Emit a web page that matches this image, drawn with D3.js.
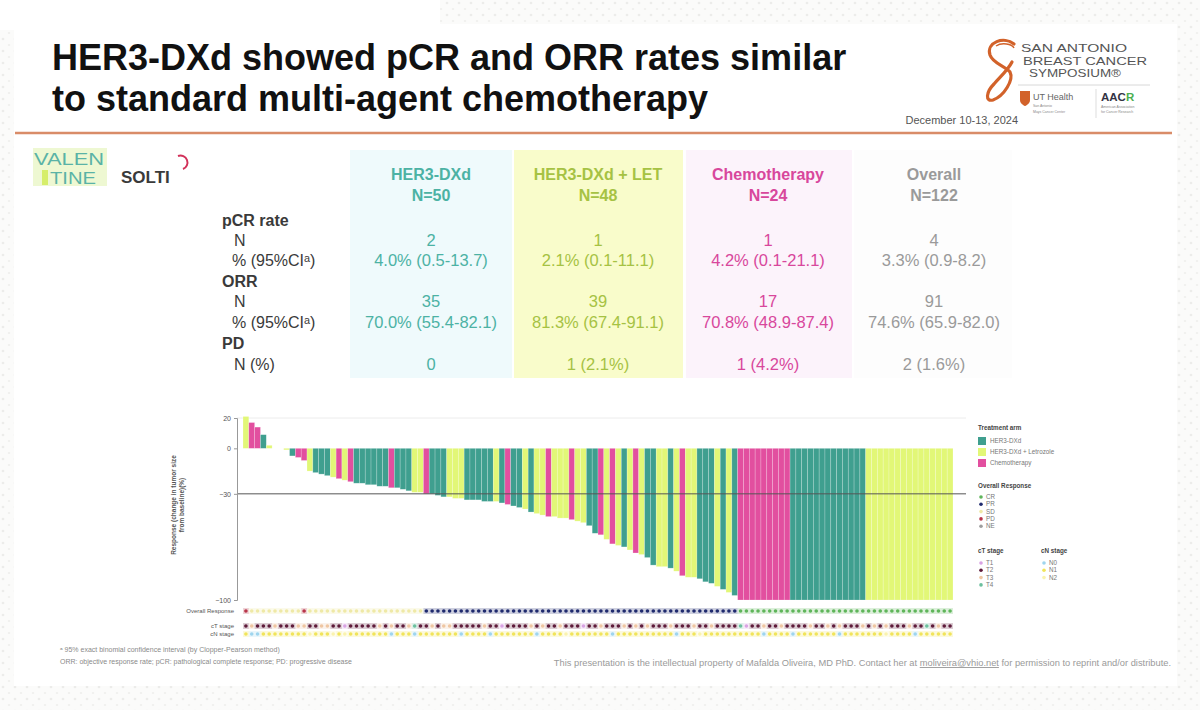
<!DOCTYPE html>
<html>
<head>
<meta charset="utf-8">
<script src="https://cdn.jsdelivr.net/npm/d3@7"></script>
<style>
  body { margin: 0; background: #fff; }
  svg { display: block; }
  text { font-family: "Liberation Sans", Arial, sans-serif; }
</style>
</head>
<body>
<div id="chart-area"></div>
<script>
// ---------- DATA ----------
var titleLines = ["HER3-DXd showed pCR and ORR rates similar", "to standard multi-agent chemotherapy"];

// summary table
var groups = ["HER3-DXd", "HER3-DXd + LET", "Chemotherapy", "Overall"];
var groupN = ["N=50", "N=48", "N=24", "N=122"];
var pcrN = ["2", "1", "1", "4"];
var pcrPct = ["4.0% (0.5-13.7)", "2.1% (0.1-11.1)", "4.2% (0.1-21.1)", "3.3% (0.9-8.2)"];
var orrN = ["35", "39", "17", "91"];
var orrPct = ["70.0% (55.4-82.1)", "81.3% (67.4-91.1)", "70.8% (48.9-87.4)", "74.6% (65.9-82.0)"];
var pdN = ["0", "1 (2.1%)", "1 (4.2%)", "2 (1.6%)"];

// waterfall: one entry per patient (T = HER3-DXd, Y = HER3-DXd + Letrozole, C = Chemotherapy)
var armNames = ["HER3-DXd", "HER3-DXd + Letrozole", "Chemotherapy"];
var armCodes = ["T", "Y", "C"];
var barArm = ("YCCTYYYYTC" + "CYTTTYCYCT" + "TTTTTCTTTY" + "YCTTTYYYTT" + "TTTYTCTTYT" +
              "YYCYYYCYYT" + "TCYCYTYCYT" + "TYYTYCYYTT" + "TYTYTCCCCC" + "CCCCTTTTTT" +
              "TTTTTTTYYY" + "YYYYYYYYYY" + "YY").split("");
var barChange = [21, 17, 14, 9, 2, 0, 0, -1, -5, -6,
                 -8, -15, -16, -17, -18, -19, -20, -21, -22, -23,
                 -23, -24, -24, -25, -25, -26, -26, -27, -28, -29,
                 -29, -30, -30, -31, -32, -32, -33, -33, -34, -34,
                 -34, -35, -35, -35, -36, -37, -38, -39, -40, -42,
                 -43, -44, -45, -45, -46, -46, -47, -48, -49, -51,
                 -56, -57, -60, -63, -64, -65, -67, -69, -70, -72,
                 -77, -78, -78, -79, -81, -84, -85, -85, -86, -88,
                 -89, -91, -93, -95, -97, -100, -100, -100, -100, -100,
                 -100, -100, -100, -100, -100, -100, -100, -100, -100, -100,
                 -100, -100, -100, -100, -100, -100, -100, -100, -100, -100,
                 -100, -100, -100, -100, -100, -100, -100, -100, -100, -100,
                 -100, -100];
// overall response (C = CR, P = PR, S = SD, D = PD, N = NE)
var responseNames = ["CR", "PR", "SD", "PD", "NE"];
var responseCodes = ["C", "P", "S", "D", "N"];
var barResponse = ("DSSSSSSSSS" + "DSSSSSSSSS" + "SSSSSSSSSS" + "SPPPPPPPPP" + "PPPPPPPPPP" +
                   "PPPPPPPPPP" + "PPPPPPPPPP" + "PPPPPPPPPP" + "PPPPPCCCCC" + "CCCCCCCCCC" +
                   "CCCCCCCCCC" + "CCCCCCCCCC" + "CC").split("");
var ctNames = ["T1", "T2", "T3", "T4"];
var barCT = ("2322232223" + "3223322122" + "2223232234" + "2232332222" + "2322122223" +
             "2322322212" + "2322232323" + "2223222322" + "3222241223" + "2232222322" +
             "3232223232" + "3222322423" + "22").split("");
var cnNames = ["N0", "N1", "N2"];
var barCN = ("1001111111" + "1211121211" + "1111101110" + "1111111011" + "1101111111" +
             "0111121111" + "1110111111" + "1111011121" + "1111111110" + "1111011111" +
             "1101111111" + "2111101111" + "11").split("");
var yTicks = [20, 0, -30, -100];

// ---------- DRAW ----------
var W = 1200, H = 710;
var svg = d3.select("#chart-area").append("svg")
    .attr("width", W).attr("height", H);

// faint textured backdrop with white slide
var defs = svg.append("defs");
var pat = defs.append("pattern").attr("id", "tex")
    .attr("width", 12).attr("height", 12).attr("patternUnits", "userSpaceOnUse");
pat.append("rect").attr("width", 12).attr("height", 12).attr("fill", "#fbfbfa");
pat.append("circle").attr("cx", 3).attr("cy", 3).attr("r", 1.3).attr("fill", "#ececea");
pat.append("circle").attr("cx", 9).attr("cy", 9).attr("r", 1.1).attr("fill", "#efefed");
svg.append("rect").attr("width", W).attr("height", H).attr("fill", "url(#tex)");
svg.append("rect").attr("x", 14).attr("y", 24).attr("width", 1163).attr("height", 662).attr("fill", "#fff");
svg.append("rect").attr("x", 0).attr("y", 0).attr("width", 440).attr("height", 30).attr("fill", "#fff");

// title
svg.selectAll(".title").data(titleLines).enter().append("text")
    .attr("class", "title")
    .attr("x", 52).attr("y", (d, i) => 70 + i * 41)
    .attr("font-size", "36px").attr("font-weight", "bold").attr("fill", "#111")
    .text(d => d);

// orange separator
svg.append("line").attr("x1", 15).attr("x2", 1172).attr("y1", 133).attr("y2", 133)
    .attr("stroke", "#d98c68").attr("stroke-width", 2.5);

// SABCS logo (right)
var logo = svg.append("g");
logo.append("path")
    .attr("d", "M1014,44 C1004,36 986,42 990,55 C993,64 1006,66 1010,72 C1014,80 1004,96 993,100 C985,102 986,92 994,84 C1000,77 1008,70 1012,62")
    .attr("fill", "none").attr("stroke", "#d2622a").attr("stroke-width", 3.2).attr("stroke-linecap", "round");
logo.append("path")
    .attr("d", "M996,46 C1002,42 1012,44 1014,48")
    .attr("fill", "none").attr("stroke", "#d2622a").attr("stroke-width", 1.5);
[["SAN ANTONIO", 1021, 106], ["BREAST CANCER", 1023, 124], ["SYMPOSIUM\u00ae", 1029, 92]].forEach((t, i) => {
    logo.append("text").attr("x", t[1]).attr("y", 52 + i * 12.5)
        .attr("font-size", "11px").attr("fill", "#555")
        .attr("textLength", t[2]).attr("lengthAdjust", "spacingAndGlyphs")
        .text(t[0]);
});
logo.append("line").attr("x1", 1018).attr("x2", 1150).attr("y1", 85).attr("y2", 85)
    .attr("stroke", "#d8d8d8").attr("stroke-width", 1);
logo.append("path").attr("d", "M1020,91 L1030,91 L1030,100 C1030,104 1025,106 1025,106 C1025,106 1020,104 1020,100 Z")
    .attr("fill", "#d2622a");
logo.append("text").attr("x", 1033).attr("y", 100).attr("font-size", "9px")
    .attr("font-family", "Liberation Serif, serif").attr("fill", "#666").text("UT Health");
logo.append("text").attr("x", 1033).attr("y", 107).attr("font-size", "3.5px").attr("fill", "#888").text("San Antonio");
logo.append("text").attr("x", 1033).attr("y", 113).attr("font-size", "3.5px").attr("fill", "#888").text("Mays Cancer Center");
logo.append("line").attr("x1", 1096).attr("x2", 1096).attr("y1", 89).attr("y2", 118)
    .attr("stroke", "#ddd");
logo.append("text").attr("x", 1101).attr("y", 101).attr("font-size", "11.5px")
    .attr("font-weight", "bold").attr("fill", "#334")
    .html('AAC<tspan fill="#4caf50">R</tspan>');
logo.append("text").attr("x", 1101).attr("y", 108).attr("font-size", "3.5px").attr("fill", "#888").text("American Association");
logo.append("text").attr("x", 1101).attr("y", 113).attr("font-size", "3.5px").attr("fill", "#888").text("for Cancer Research");
svg.append("text").attr("x", 1018).attr("y", 124).attr("text-anchor", "end")
    .attr("font-size", "11px").attr("fill", "#555").text("December 10-13, 2024");

// VALENTINE / SOLTI logos
var vl = svg.append("g");
vl.append("rect").attr("x", 33).attr("y", 148).attr("width", 74).attr("height", 38).attr("fill", "#eef8d2");
vl.append("rect").attr("x", 42).attr("y", 170).attr("width", 6).attr("height", 15).attr("fill", "#d6ee6a");
vl.append("text").attr("x", 34).attr("y", 165).attr("font-size", "16.5px").attr("fill", "#5ab3a6")
    .attr("textLength", 70).attr("lengthAdjust", "spacingAndGlyphs").text("VALEN");
vl.append("text").attr("x", 50).attr("y", 184).attr("font-size", "16.5px").attr("fill", "#5ab3a6")
    .attr("textLength", 46).attr("lengthAdjust", "spacingAndGlyphs").text("TINE");
vl.append("text").attr("x", 121).attr("y", 183).attr("font-size", "17px").attr("font-weight", "bold").attr("fill", "#3a3a3a").text("SOLTI");
vl.append("path").attr("d", "M178,156 A6,6 0 0 1 183,169")
    .attr("fill", "none").attr("stroke", "#d2325a").attr("stroke-width", 2);

// ---------- summary table ----------
var colX = [431, 598, 768, 934];
var colBg = ["#effafc", "#f9fccb", "#fcf3fb", "#fdfdfd"];
var colL = [350, 514, 686, 854], colR = [512, 683, 852, 1012];
var textCol = ["#4cb2a4", "#a6c243", "#d8479c", "#9a9a9a"];
var tbl = svg.append("g");
tbl.selectAll(".bg").data(groups).enter().append("rect")
    .attr("x", (d, i) => colL[i]).attr("y", 150)
    .attr("width", (d, i) => colR[i] - colL[i]).attr("height", 228)
    .attr("fill", (d, i) => colBg[i]);
tbl.selectAll(".hd1").data(groups).enter().append("text")
    .attr("x", (d, i) => colX[i]).attr("y", 180).attr("text-anchor", "middle")
    .attr("font-size", "16px").attr("font-weight", "bold").attr("fill", (d, i) => textCol[i])
    .text(d => d);
tbl.selectAll(".hd2").data(groupN).enter().append("text")
    .attr("x", (d, i) => colX[i]).attr("y", 201).attr("text-anchor", "middle")
    .attr("font-size", "16px").attr("font-weight", "bold").attr("fill", (d, i) => textCol[i])
    .text(d => d);

var rowLabels = [
    {t: "pCR rate", y: 220, bold: true, x: 222},
    {t: "N", y: 240, x: 234, vals: pcrN},
    {t: "% (95%CI\u1d43)", y: 260, x: 232, vals: pcrPct},
    {t: "ORR", y: 281, bold: true, x: 222},
    {t: "N", y: 301, x: 234, vals: orrN},
    {t: "% (95%CI\u1d43)", y: 322, x: 232, vals: orrPct},
    {t: "PD", y: 343, bold: true, x: 222},
    {t: "N (%)", y: 364, x: 234, vals: pdN}
];
rowLabels.forEach(r => {
    tbl.append("text").attr("x", r.x).attr("y", r.y + 6)
        .attr("font-size", "16px").attr("font-weight", r.bold ? "bold" : "normal")
        .attr("fill", "#3a3a3a").text(r.t);
    if (r.vals) {
        tbl.selectAll(null).data(r.vals).enter().append("text")
            .attr("x", (d, i) => colX[i]).attr("y", r.y + 6).attr("text-anchor", "middle")
            .attr("font-size", "16.5px").attr("fill", (d, i) => textCol[i])
            .text(d => d);
    }
});

// ---------- waterfall ----------
var armColor = d3.scaleOrdinal().domain(armCodes).range(["#3f9f8f", "#e2f777", "#e24f9f"]);
var respColor = d3.scaleOrdinal().domain(responseCodes).range(["#5fb55a", "#1f2a6e", "#efe9a6", "#b8354a", "#9e9e9e"]);
var ctColor = d3.scaleOrdinal().domain(["1", "2", "3", "4"]).range(["#d9a3e3", "#5e1b3a", "#efc6a2", "#6cc09e"]);
var cnColor = d3.scaleOrdinal().domain(["0", "1", "2"]).range(["#9fd5ee", "#f1e45a", "#faf3ae"]);

var patients = barChange.map((v, i) => ({i: i, v: v, arm: barArm[i], resp: barResponse[i], ct: barCT[i], cn: barCN[i]}));

var x = d3.scaleBand().domain(patients.map(d => d.i)).range([243, 953]).paddingInner(0);
var y = d3.scaleLinear().domain([-100, 20]).range([600, 418]);

var wf = svg.append("g");
// faint top guide
wf.append("line").attr("x1", 237).attr("x2", 966).attr("y1", y(20)).attr("y2", y(20))
    .attr("stroke", "#ececec").attr("stroke-width", 1);

wf.selectAll("rect.bar").data(patients).enter().append("rect")
    .attr("class", "bar")
    .attr("x", d => x(d.i))
    .attr("y", d => y(Math.max(0, d.v)))
    .attr("width", x.bandwidth())
    .attr("height", d => Math.abs(y(d.v) - y(0)))
    .attr("fill", d => armColor(d.arm))
    .attr("stroke", "#ffffff").attr("stroke-opacity", 0.35).attr("stroke-width", 0.6);

// -30% line
wf.append("line").attr("x1", 237).attr("x2", 966).attr("y1", y(-30)).attr("y2", y(-30))
    .attr("stroke", "#555").attr("stroke-width", 1);

var yAxis = d3.axisLeft(y).tickValues(yTicks).tickSize(3).tickFormat(d3.format("d"));
var ax = wf.append("g").attr("transform", "translate(237,0)").call(yAxis);
ax.select(".domain").attr("stroke", "#999");
ax.selectAll(".tick line").attr("stroke", "#999");
ax.selectAll(".tick text").attr("font-size", "7px").attr("fill", "#555");

["Response (change in tumor size", "from baseline)(%)"].forEach((t, i) => {
    wf.append("text").attr("transform", "translate(" + (176 + i * 8) + ",505) rotate(-90)")
        .attr("text-anchor", "middle").attr("font-size", "6.5px").attr("font-weight", "bold")
        .attr("fill", "#555").text(t);
});

// annotation rows
var rows = [
    {label: "Overall Response", y: 611, key: "resp", color: respColor},
    {label: "cT stage", y: 626, key: "ct", color: ctColor},
    {label: "cN stage", y: 634, key: "cn", color: cnColor}
];
rows.forEach(r => {
    var g = wf.append("g");
    g.selectAll("rect").data(patients).enter().append("rect")
        .attr("x", d => x(d.i)).attr("y", r.y - 3)
        .attr("width", x.bandwidth()).attr("height", 6)
        .attr("fill", d => r.color(d[r.key])).attr("opacity", 0.22);
    g.selectAll("circle").data(patients).enter().append("circle")
        .attr("cx", d => x(d.i) + x.bandwidth() / 2).attr("cy", r.y)
        .attr("r", 1.8).attr("fill", d => r.color(d[r.key]));
    wf.append("text").attr("x", 234).attr("y", r.y + 2).attr("text-anchor", "end")
        .attr("font-size", "6px").attr("fill", "#555").text(r.label);
});

// legend
var lg = svg.append("g").attr("font-size", "6.3px");
lg.append("text").attr("x", 978).attr("y", 430).attr("font-weight", "bold").attr("font-size", "6.3px").attr("fill", "#444").text("Treatment arm");
armNames.forEach((n, i) => {
    lg.append("rect").attr("x", 978).attr("y", 437 + i * 11).attr("width", 8).attr("height", 8)
        .attr("fill", armColor(armCodes[i]));
    lg.append("text").attr("x", 990).attr("y", 443 + i * 11).attr("fill", "#777").text(n);
});
lg.append("text").attr("x", 978).attr("y", 488).attr("font-weight", "bold").attr("font-size", "6.3px").attr("fill", "#444").text("Overall Response");
responseNames.forEach((n, i) => {
    lg.append("circle").attr("cx", 981).attr("cy", 497 + i * 7.3).attr("r", 1.8).attr("fill", respColor(responseCodes[i]));
    lg.append("text").attr("x", 986).attr("y", 499 + i * 7.3).attr("fill", "#777").text(n);
});
lg.append("text").attr("x", 978).attr("y", 553).attr("font-weight", "bold").attr("font-size", "6.3px").attr("fill", "#444").text("cT stage");
ctNames.forEach((n, i) => {
    lg.append("circle").attr("cx", 981).attr("cy", 563 + i * 7.3).attr("r", 1.8).attr("fill", ctColor(String(i + 1)));
    lg.append("text").attr("x", 986).attr("y", 565 + i * 7.3).attr("fill", "#777").text(n);
});
lg.append("text").attr("x", 1041).attr("y", 553).attr("font-weight", "bold").attr("font-size", "6.3px").attr("fill", "#444").text("cN stage");
cnNames.forEach((n, i) => {
    lg.append("circle").attr("cx", 1044).attr("cy", 563 + i * 7.3).attr("r", 1.8).attr("fill", cnColor(String(i)));
    lg.append("text").attr("x", 1049).attr("y", 565 + i * 7.3).attr("fill", "#777").text(n);
});

// footnotes
svg.append("text").attr("x", 60).attr("y", 652).attr("font-size", "7px").attr("fill", "#8a8a8a")
    .text("\u1d43 95% exact binomial confidence interval (by Clopper-Pearson method)");
svg.append("text").attr("x", 60).attr("y", 664).attr("font-size", "7px").attr("fill", "#8a8a8a")
    .text("ORR: objective response rate; pCR: pathological complete response; PD: progressive disease");
svg.append("text").attr("x", 1171).attr("y", 666).attr("text-anchor", "end").attr("font-size", "9.3px").attr("fill", "#9a9a9a")
    .html('This presentation is the intellectual property of Mafalda Oliveira, MD PhD. Contact her at <tspan text-decoration="underline">moliveira@vhio.net</tspan> for permission to reprint and/or distribute.');
</script>
</body>
</html>
